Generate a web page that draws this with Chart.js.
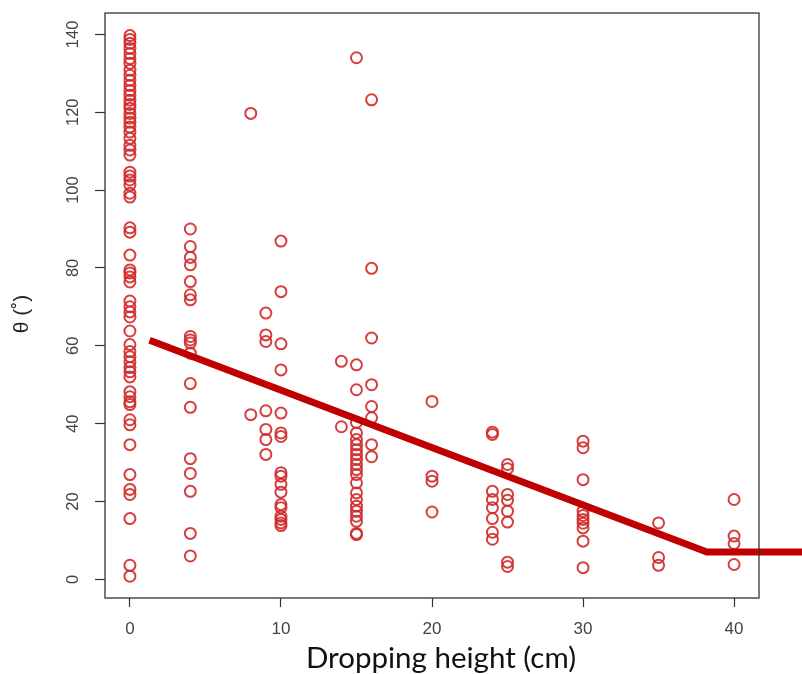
<!DOCTYPE html>
<html>
<head>
<meta charset="utf-8">
<script src="https://cdn.jsdelivr.net/npm/chart.js@4/dist/chart.umd.min.js"></script>
<style>
  html, body { margin: 0; padding: 0; background: #fff; }
  #wrap { width: 802px; height: 674px; }
</style>
</head>
<body>
<div id="wrap"><canvas id="canvas" width="802" height="674"></canvas></div>
<script>
// measured angles (deg) for each dropping height (cm)
var thetaAt0 = [139.7, 138.7, 137.7, 136.4, 135.1, 133.8, 132.6, 130.8, 129.5, 128.2, 126.9, 125.6,
    124.4, 123.1, 122, 121, 119.7, 118.5, 117.4, 116.2, 114.9, 113.3, 111.5, 110.3, 109, 104.6,
    103.6, 102.6, 101.3, 99.2, 98.2, 90.3, 89.2, 83.3, 79.5, 78.7, 77.7, 76.4, 71.5, 70, 68.7,
    67.4, 63.8, 60.3, 58.5, 57.2, 55.9, 54.4, 53.3, 52, 48.2, 46.9, 45.6, 44.9, 41, 39.7, 34.6,
    26.9, 23.1, 21.8, 15.6, 3.6, 0.8];
var thetaAt4 = [90, 85.5, 82.7, 80.8, 76.5, 73.1, 71.8, 62.4, 61.5, 60.7, 58.1, 50.3, 44.2, 31, 27.2, 22.6, 11.8, 6];
var thetaAt8 = [119.7, 42.3];
var thetaAt9 = [68.4, 62.8, 61.1, 43.3, 38.5, 35.9, 32.1];
var thetaAt10 = [86.9, 73.9, 60.5, 53.8, 42.7, 37.6, 36.7, 27.4, 26.5, 24.4, 22.4, 19.2, 18.4, 16.2, 15.4, 14.5, 13.8];
var thetaAt14 = [56, 39.2];
var thetaAt15 = [134, 55.1, 48.7, 40.3, 37.6, 35.9, 34.6, 33.3, 32.1, 30.8, 29.5, 28.2, 26.9, 24.8,
    22.2, 20.5, 18.8, 17.5, 16.2, 14.9, 11.8, 11.5];
var thetaAt16 = [123.2, 79.9, 62, 50, 44.4, 41.5, 34.6, 31.5];
var thetaAt20 = [45.7, 26.5, 25.2, 17.3];
var thetaAt24 = [37.8, 37.2, 22.6, 20.5, 18.4, 15.6, 12.1, 10.3];
var thetaAt25 = [29.5, 28.4, 21.8, 20.3, 17.5, 14.7, 4.4, 3.3];
var thetaAt30 = [35.5, 33.8, 25.6, 17.5, 16.4, 15.4, 14.4, 13.2, 9.8, 3];
var thetaAt35 = [14.5, 5.6, 3.6];
var thetaAt40 = [20.5, 11.1, 9.2, 3.8];

// fitted broken line
var fitX = [1.3, 38.2, 44.5];
var fitY = [61.4, 7.0, 7.0];

var xTicks = [0, 10, 20, 30, 40];
var yTicks = [0, 20, 40, 60, 80, 100, 120, 140];

var groups = [
    [0, thetaAt0], [4, thetaAt4], [8, thetaAt8], [9, thetaAt9], [10, thetaAt10],
    [14, thetaAt14], [15, thetaAt15], [16, thetaAt16], [20, thetaAt20], [24, thetaAt24],
    [25, thetaAt25], [30, thetaAt30], [35, thetaAt35], [40, thetaAt40]
];

var points = [];
groups.forEach(function (g) {
    g[1].forEach(function (v) { points.push({x: g[0], y: v}); });
});
var fitLine = fitX.map(function (x, i) { return {x: x, y: fitY[i]}; });

var boxAndLabels = {
    id: 'boxAndLabels',
    afterDraw: function (chart) {
        var ctx = chart.ctx, a = chart.chartArea, ys = chart.scales.y;
        ctx.save();
        ctx.strokeStyle = '#333';
        ctx.lineWidth = 1.3;
        ctx.strokeRect(a.left, a.top, a.right - a.left, a.bottom - a.top);

        ctx.fillStyle = '#444';
        ctx.font = '16.5px "Liberation Sans", Arial, sans-serif';
        ctx.textAlign = 'center';
        ctx.textBaseline = 'middle';
        yTicks.forEach(function (v) {
            var y = ys.getPixelForValue(v);
            ctx.save();
            ctx.translate(73, y);
            ctx.rotate(-Math.PI / 2);
            ctx.fillText(String(v), 0, 0);
            ctx.restore();
        });

        ctx.fillStyle = '#222';
        ctx.font = '21px "Liberation Sans", Arial, sans-serif';
        ctx.save();
        ctx.translate(22, 314);
        ctx.rotate(-Math.PI / 2);
        ctx.fillText('\u03B8 (\u02DA)', 0, 0);
        ctx.restore();

        // x axis title, centred a little right of the plot like the source
        ctx.fillStyle = '#111';
        ctx.font = '29.5px Lato, "Open Sans", sans-serif';
        ctx.fillText('Dropping height (cm)', 441, 658);
        ctx.restore();
    }
};

var config = {
    type: 'scatter',
    data: {
        datasets: [{
            type: 'line',
            data: fitLine,
            borderColor: '#C00000',
            borderWidth: 7,
            pointRadius: 0,
            fill: false,
            clip: false,
            order: 0
        }, {
            data: points,
            pointStyle: 'circle',
            pointRadius: 5.5,
            pointBorderWidth: 2,
            borderColor: 'rgba(208,42,42,0.9)',
            backgroundColor: 'rgba(0,0,0,0)',
            order: 1
        }]
    },
    options: {
        responsive: false,
        animation: false,
        layout: {
            padding: {top: 13, right: 43, left: 0, bottom: 0}
        },
        plugins: {
            legend: {display: false},
            tooltip: {enabled: false}
        },
        scales: {
            x: {
                type: 'linear',
                min: -1.65,
                max: 41.65,
                afterBuildTicks: function (scale) {
                    scale.ticks = xTicks.map(function (v) { return {value: v}; });
                },
                afterFit: function (scale) { scale.height = 76; },
                border: {display: false},
                grid: {drawOnChartArea: false, drawTicks: true, tickLength: 9, color: '#333', tickWidth: 1.2},
                ticks: {
                    color: '#444',
                    padding: 12,
                    font: {family: '"Liberation Sans", Arial, sans-serif', size: 17}
                }
            },
            y: {
                type: 'linear',
                min: -4.8,
                max: 145.5,
                afterBuildTicks: function (scale) {
                    scale.ticks = yTicks.map(function (v) { return {value: v}; });
                },
                afterFit: function (scale) { scale.width = 105; },
                border: {display: false},
                grid: {drawOnChartArea: false, drawTicks: true, tickLength: 10, color: '#333', tickWidth: 1.2},
                ticks: {display: false}
            }
        }
    },
    plugins: [boxAndLabels]
};

window.onload = function () {
    window.myScatter = new Chart(document.getElementById('canvas'), config);
};
</script>
</body>
</html>
